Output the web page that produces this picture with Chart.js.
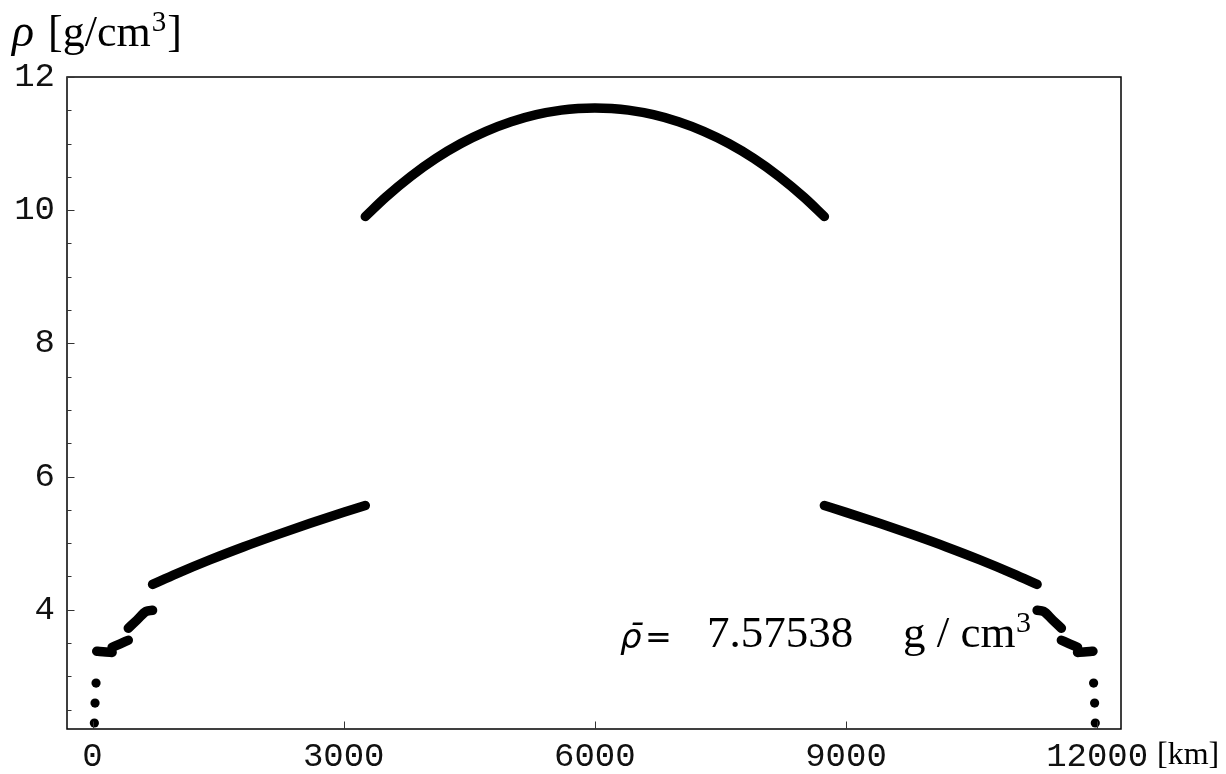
<!DOCTYPE html>
<html>
<head>
<meta charset="utf-8">
<script src="https://cdn.jsdelivr.net/npm/chart.js@4/dist/chart.umd.min.js"></script>
<style>
  html, body { margin: 0; padding: 0; background: #fff; }
  #wrap { width: 1226px; height: 774px; position: relative; }
</style>
</head>
<body>
<div id="wrap"><canvas id="rho-chart"></canvas></div>
<script>
// distance along the path [km] and density [g/cm^3]
const crustKm = [22, 30, 42, 11958, 11970, 11978];
const crustRho = [2.30, 2.60, 2.90, 2.90, 2.60, 2.30];

const lidLeftKm = [50, 85, 160, 234];
const lidLeftRho = [3.378, 3.375, 3.367, 3.360];
const tzUpperLeftKm = [234, 330, 427];
const tzUpperLeftRho = [3.436, 3.489, 3.543];
const tzLowerLeftKm = [427, 530, 641, 717];
const tzLowerLeftRho = [3.724, 3.845, 3.976, 3.992];
const mantleLeftKm = [717, 1000, 1400, 1800, 2200, 2600, 3000, 3258];
const mantleLeftRho = [4.381, 4.540, 4.749, 4.943, 5.125, 5.298, 5.463, 5.566];

const coreKm = [3258, 3500, 3800, 4100, 4400, 4700, 5000, 5300, 5600, 5800, 6000,
                6200, 6400, 6700, 7000, 7300, 7600, 7900, 8200, 8500, 8742];
const coreRho = [9.904, 10.193, 10.507, 10.776, 11.001, 11.184, 11.328, 11.434, 11.502, 11.526, 11.534,
                 11.526, 11.502, 11.434, 11.328, 11.184, 11.001, 10.776, 10.507, 10.193, 9.904];

const mantleRightKm = [8742, 9000, 9400, 9800, 10200, 10600, 11000, 11283];
const mantleRightRho = [5.566, 5.463, 5.298, 5.125, 4.943, 4.749, 4.540, 4.381];
const tzLowerRightKm = [11283, 11359, 11470, 11573];
const tzLowerRightRho = [3.992, 3.976, 3.845, 3.724];
const tzUpperRightKm = [11573, 11670, 11766];
const tzUpperRightRho = [3.543, 3.489, 3.436];
const lidRightKm = [11766, 11840, 11915, 11950];
const lidRightRho = [3.360, 3.367, 3.375, 3.378];

const xTickValues = [0, 3000, 6000, 9000, 12000];
const yTickValues = [4, 6, 8, 10, 12];
const yMinorTicks = [2.5, 3, 3.5, 4.5, 5, 5.5, 6.5, 7, 7.5, 8.5, 9, 9.5, 10.5, 11, 11.5];

const meanRhoText = "7.57538";

function pts(xs, ys) {
  return xs.map((x, i) => ({ x: x, y: ys[i] }));
}

function segment(xs, ys) {
  return {
    data: pts(xs, ys),
    showLine: true,
    borderColor: "#000",
    borderWidth: 9.5,
    borderCapStyle: "round",
    borderJoinStyle: "round",
    cubicInterpolationMode: "monotone",
    pointRadius: 0,
    pointHoverRadius: 0
  };
}

// frame, inward ticks and the texts around the plot
const framePlugin = {
  id: "frame",
  afterDraw(chart) {
    const ctx = chart.ctx;
    const a = chart.chartArea;
    const xs = chart.scales.x;
    const ys = chart.scales.y;
    ctx.save();

    ctx.strokeStyle = "#000";
    ctx.lineWidth = 1.5;
    ctx.strokeRect(a.left, a.top, a.right - a.left, a.bottom - a.top);

    ctx.strokeStyle = "#333";
    ctx.lineWidth = 1;
    ctx.beginPath();
    yTickValues.forEach(v => {
      const y = Math.round(ys.getPixelForValue(v)) + 0.5;
      ctx.moveTo(a.left, y);
      ctx.lineTo(a.left + 7.5, y);
    });
    yMinorTicks.forEach(v => {
      const y = Math.round(ys.getPixelForValue(v)) + 0.5;
      ctx.moveTo(a.left, y);
      ctx.lineTo(a.left + 4.5, y);
    });
    xTickValues.forEach(v => {
      const x = Math.round(xs.getPixelForValue(v)) + 0.5;
      ctx.moveTo(x, a.bottom);
      ctx.lineTo(x, a.bottom - 7.5);
    });
    ctx.stroke();

    ctx.fillStyle = "#000";
    ctx.textBaseline = "alphabetic";

    // axis title
    ctx.font = "italic 46px 'Liberation Serif'";
    ctx.fillText("\u03C1", 12, 46);
    ctx.font = "44px 'Liberation Serif'";
    let tx = 48;
    ctx.fillText("[g/cm", tx, 46);
    tx += ctx.measureText("[g/cm").width;
    ctx.font = "29px 'Liberation Serif'";
    ctx.fillText("3", tx + 1, 31);
    tx += ctx.measureText("3").width + 2;
    ctx.font = "44px 'Liberation Serif'";
    ctx.fillText("]", tx, 46);

    // x unit
    ctx.font = "32px 'Liberation Serif'";
    ctx.fillText("[km]", 1157, 764);

    // mean density annotation
    ctx.font = "italic 34px 'DejaVu Sans'";
    ctx.fillText("\u03C1\u0304", 620, 648);
    ctx.font = "32px 'DejaVu Sans'";
    ctx.fillText("=", 645, 648);
    ctx.font = "45px 'Liberation Serif'";
    ctx.fillText(meanRhoText, 707, 647);
    ctx.fillText("g / cm", 903, 647);
    ctx.font = "30px 'Liberation Serif'";
    ctx.fillText("3", 1016, 632);

    ctx.restore();
  }
};

const tickFont = { family: "'Liberation Mono'", size: 34 };

new Chart(document.getElementById("rho-chart"), {
  type: "scatter",
  data: {
    datasets: [
      {
        data: pts(crustKm, crustRho),
        showLine: false,
        pointRadius: 4.6,
        pointBackgroundColor: "#000",
        pointBorderWidth: 0,
        pointHoverRadius: 4.6
      },
      segment(lidLeftKm, lidLeftRho),
      segment(tzUpperLeftKm, tzUpperLeftRho),
      segment(tzLowerLeftKm, tzLowerLeftRho),
      segment(mantleLeftKm, mantleLeftRho),
      segment(coreKm, coreRho),
      segment(mantleRightKm, mantleRightRho),
      segment(tzLowerRightKm, tzLowerRightRho),
      segment(tzUpperRightKm, tzUpperRightRho),
      segment(lidRightKm, lidRightRho)
    ]
  },
  options: {
    responsive: true,
    maintainAspectRatio: false,
    animation: false,
    events: [],
    layout: { padding: { left: 0, top: 77, right: 105, bottom: 0 } },
    plugins: {
      legend: { display: false },
      tooltip: { enabled: false }
    },
    scales: {
      x: {
        type: "linear",
        min: -305,
        max: 12285,
        grid: { display: false, drawTicks: false },
        border: { display: false },
        afterBuildTicks: s => { s.ticks = xTickValues.map(v => ({ value: v })); },
        afterFit: s => { s.height = 45; },
        ticks: {
          color: "#111",
          font: tickFont,
          padding: 8,
          maxRotation: 0,
          autoSkip: false,
          callback: v => String(v)
        }
      },
      y: {
        type: "linear",
        min: 2.21,
        max: 12.0,
        grid: { display: false, drawTicks: false },
        border: { display: false },
        afterBuildTicks: s => { s.ticks = yTickValues.map(v => ({ value: v })); },
        afterFit: s => { s.width = 67; },
        ticks: {
          color: "#111",
          font: tickFont,
          padding: 12,
          autoSkip: false,
          callback: v => String(v)
        }
      }
    }
  },
  plugins: [framePlugin]
});
</script>
</body>
</html>
